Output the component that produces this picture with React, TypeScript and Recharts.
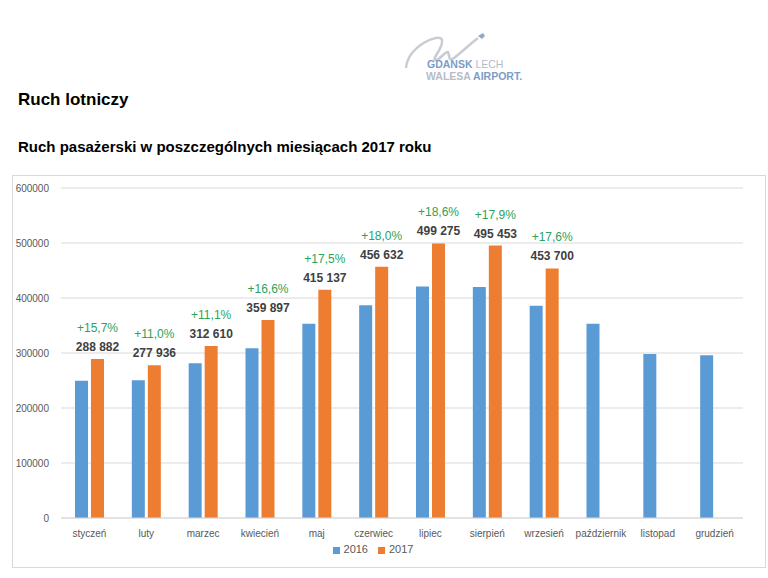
import { BarChart, Bar, XAxis, YAxis, CartesianGrid, Legend, LabelList } from 'recharts'

const months = ['styczeń', 'luty', 'marzec', 'kwiecień', 'maj', 'czerwiec', 'lipiec', 'sierpień', 'wrzesień', 'październik', 'listopad', 'grudzień']
const pax2016 = [249700, 250400, 281400, 308700, 353300, 387000, 421000, 420200, 385800, 353000, 298000, 296000]
const pax2017 = [288882, 277936, 312610, 359897, 415137, 456632, 499275, 495453, 453700, null, null, null]
const growth = ['+15,7%', '+11,0%', '+11,1%', '+16,6%', '+17,5%', '+18,0%', '+18,6%', '+17,9%', '+17,6%', '', '', '']
const yTicks = [0, 100000, 200000, 300000, 400000, 500000, 600000]

const data = months.map((m, i) => ({ month: m, y2016: pax2016[i], y2017: pax2017[i] }))

const font = '"Liberation Sans", Arial, sans-serif'

const fmt = (v: number) => String(v).replace(/\B(?=(\d{3})+(?!\d))/g, ' ')

function ValueLabel(props: any) {
  const { x, y, width, index, value } = props
  if (value == null) return null
  const cx = x + width / 2
  return (
    <g>
      <text x={cx} y={y - 27} textAnchor="middle" fontSize={12} fill="#2BA35A" fontFamily={font}>
        {growth[index]}
      </text>
      <text x={cx} y={y - 8} textAnchor="middle" fontSize={12} fontWeight="bold" fill="#404040" fontFamily={font}>
        {fmt(value)}
      </text>
    </g>
  )
}

function Logo() {
  return (
    <div style={{ position: 'absolute', left: 400, top: 26, width: 140, height: 60 }}>
      <svg width={140} height={60} style={{ position: 'absolute', left: 0, top: 0 }}>
        <path d="M6 42 C 8 20, 40 6, 42 14 C 44 22, 30 34, 36 34 C 40 34, 44 26, 48 26 C 50 30, 48 36, 54 32 C 62 26, 70 18, 78 12"
          fill="none" stroke="#c9ccd3" strokeWidth={2.5} />
        <path d="M78 10 l5 -3 l2 3 l-3 3 z" fill="#8fa9c9" />
      </svg>
      <div style={{ position: 'absolute', left: 27, top: 32, fontFamily: font, fontSize: 10.5, lineHeight: '12px', fontWeight: 'bold', whiteSpace: 'nowrap' }}>
        <div><span style={{ color: '#7d9cc6' }}>GDANSK</span> <span style={{ color: '#b5bcc8', fontWeight: 'normal' }}>LECH</span></div>
        <div style={{ marginLeft: -1 }}><span style={{ color: '#b5bcc8' }}>WALESA</span> <span style={{ color: '#7d9cc6' }}>AIRPORT.</span></div>
      </div>
    </div>
  )
}

export default function App() {
  return (
    <div style={{ position: 'absolute', left: 0, top: 0, width: 768, height: 578, background: '#fff', fontFamily: font }}>
      <Logo />
      <div style={{ position: 'absolute', left: 18, top: 90, fontSize: 17, fontWeight: 'bold', color: '#000' }}>Ruch lotniczy</div>
      <div style={{ position: 'absolute', left: 18, top: 138, fontSize: 15, fontWeight: 'bold', color: '#000' }}>
        Ruch pasażerski w poszczególnych miesiącach 2017 roku
      </div>
      <div style={{ position: 'absolute', left: 12, top: 175, width: 752, height: 391, border: '1px solid #d9d9d9' }}>
        <BarChart width={752} height={391} data={data} margin={{ top: 12, right: 22, left: 0, bottom: 6 }} barGap={3} barSize={13}>
          <CartesianGrid vertical={false} stroke="#d9d9d9" />
          <XAxis dataKey="month" height={19} tickLine={false} axisLine={{ stroke: '#d9d9d9' }}
            tick={{ fontSize: 10, fill: '#595959', fontFamily: font }} interval={0} tickMargin={6} />
          <YAxis width={48} domain={[0, 600000]} ticks={yTicks} axisLine={false} tickLine={false}
            tick={{ fontSize: 10, fill: '#595959', fontFamily: font }} tickMargin={6} />
          <Legend height={24} iconType="square" iconSize={7}
            wrapperStyle={{ fontSize: 11, color: '#595959', fontFamily: font, bottom: 0 }}
            formatter={(v: string) => <span style={{ color: '#595959' }}>{v}</span>} />
          <Bar dataKey="y2016" name="2016" fill="#5B9BD5" isAnimationActive={false} />
          <Bar dataKey="y2017" name="2017" fill="#ED7D31" isAnimationActive={false}>
            <LabelList dataKey="y2017" content={ValueLabel} />
          </Bar>
        </BarChart>
      </div>
    </div>
  )
}
